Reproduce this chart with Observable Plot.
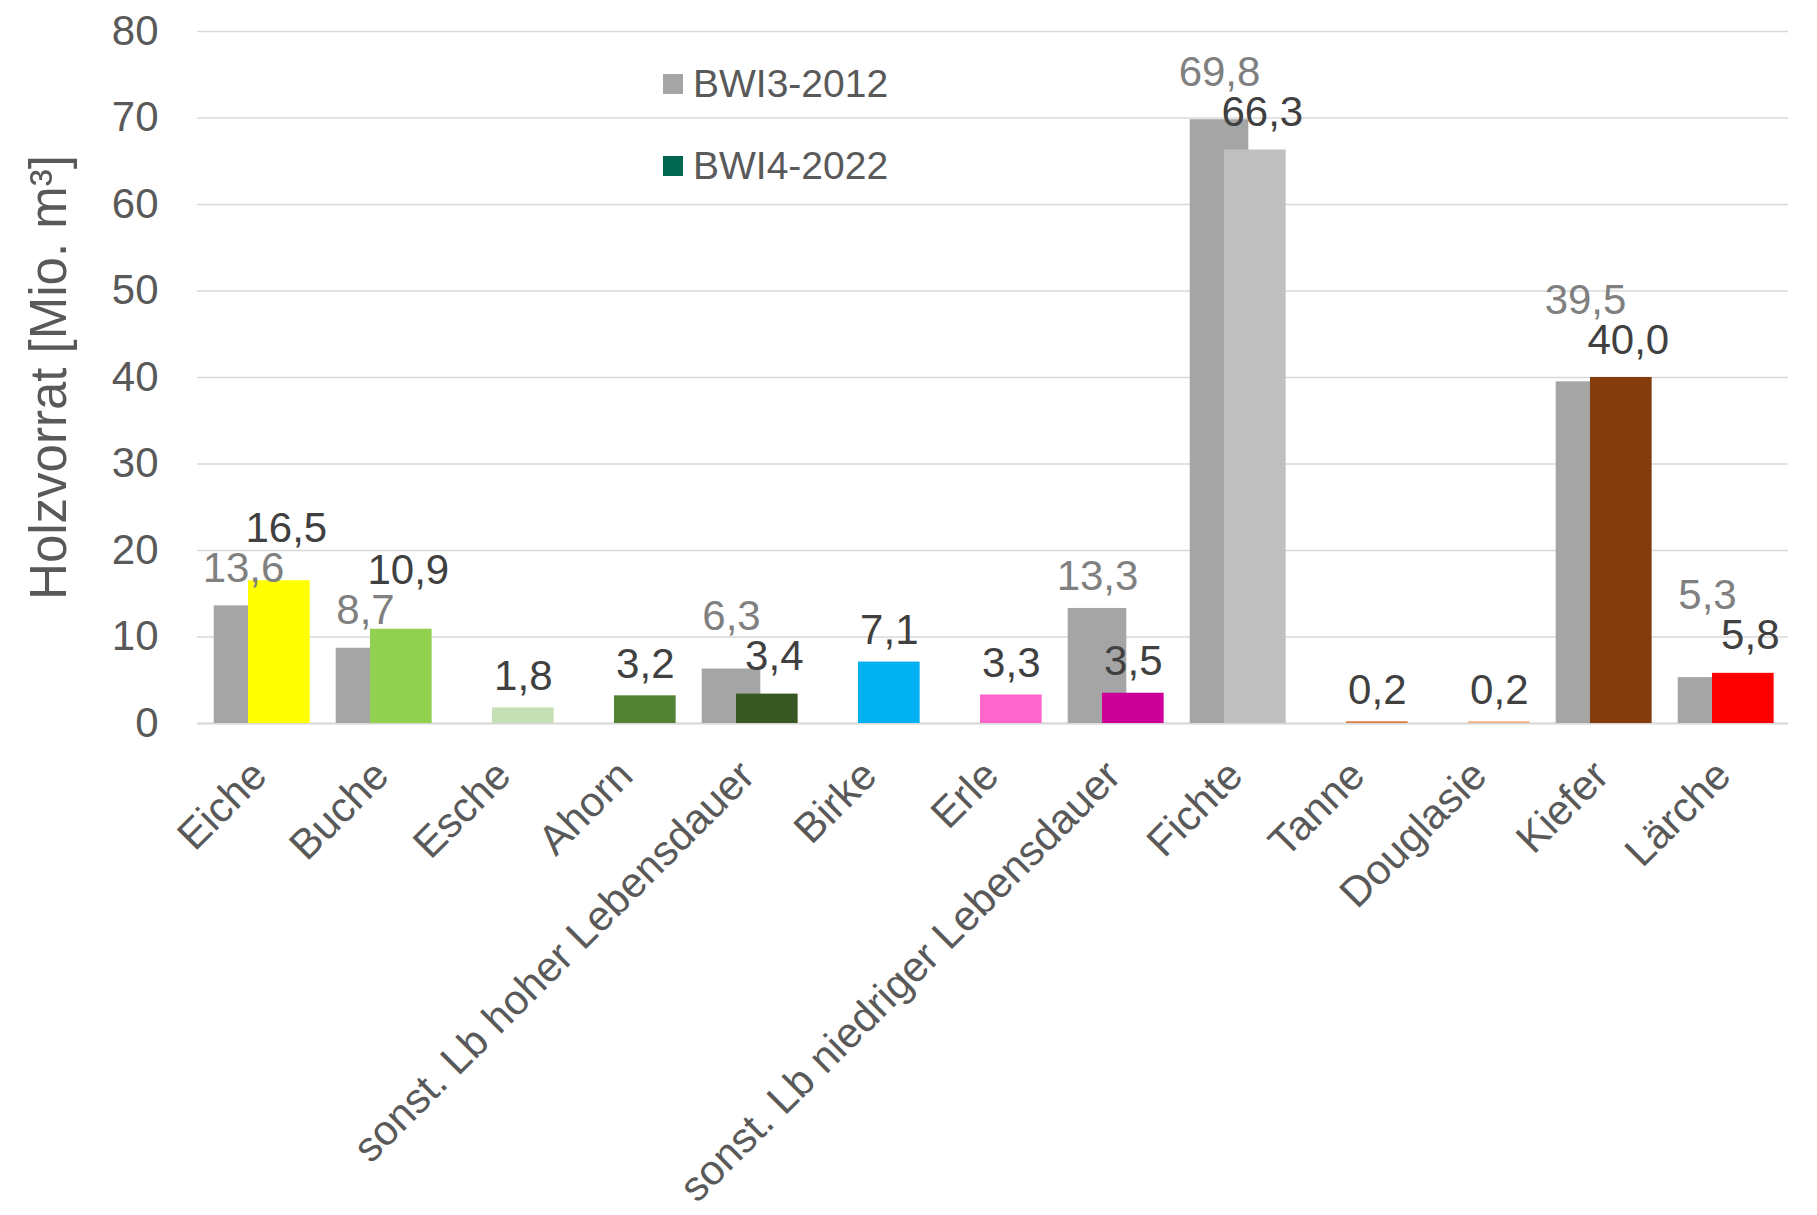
<!DOCTYPE html>
<html><head><meta charset="utf-8">
<script src="https://cdn.jsdelivr.net/npm/d3@7"></script>
<script src="https://cdn.jsdelivr.net/npm/@observablehq/plot@0.6"></script>
<style>
body{margin:0;background:#fff;}
#wrap{position:relative;width:1817px;height:1215px;font-family:"Liberation Sans",Arial,sans-serif;}
#legend{position:absolute;left:663px;top:62px;color:#595959;font-size:39px;line-height:44px;}
.item{display:flex;align-items:center;height:44px;margin-bottom:38px;}
.sw{width:20px;height:20px;margin-right:10px;}
g[aria-label="y-axis label"] text{font-size:51px;}
</style></head><body><div id="wrap"><div id="chart"></div><div id="legend"></div></div>
<script>
// ---- data ----
const categories = ["Eiche","Buche","Esche","Ahorn","sonst. Lb hoher Lebensdauer","Birke","Erle","sonst. Lb niedriger Lebensdauer","Fichte","Tanne","Douglasie","Kiefer","Lärche"];
const bwi3 = [13.6, 8.7, null, null, 6.3, null, null, 13.3, 69.8, null, null, 39.5, 5.3];
const bwi4 = [16.5, 10.9, 1.8, 3.2, 3.4, 7.1, 3.3, 3.5, 66.3, 0.2, 0.2, 40.0, 5.8];
const colors4 = ["#FFFF00","#92D050","#C5E0B4","#548235","#385723","#00B0F0","#FF66CC","#CC0099","#BFBFBF","#DD7D45","#F4B183","#843C0C","#FF0000"];
const seriesNames = ["BWI3-2012","BWI4-2022"];
const seriesColors = ["#A5A5A5","#00664F"];
const yTicks = [0,10,20,30,40,50,60,70,80];

// ---- layout ----
const W = 1817, H = 1215, mL = 197, mR = 29, mT = 31, mB = 492;
const bw = (W - mL - mR) / categories.length;
const pxPerUnit = (H - mT - mB) / 80;
const fmt = v => d3.format(".1f")(v).replace(".", ",");

const rows3 = categories.map((c, i) => ({cat: c, v: bwi3[i]})).filter(d => d.v != null);
const rows4 = categories.map((c, i) => ({cat: c, v: bwi4[i], color: colors4[i]}));

// label placement: above each bar; stack labels of a category if they collide
const gap = 18, gapPair = 24, sep = 40;
const lab3 = [], lab4 = [];
categories.forEach((c, i) => {
  const a = bwi3[i], b = bwi4[i];
  const lb = {cat: c, v: b, lift: gap, shift: false};
  if (a != null) {
    const la = {cat: c, v: a, lift: gap};
    let ya = a * pxPerUnit + gap, yb = b * pxPerUnit + gap;
    if (Math.abs(ya - yb) < sep) {
      lb.shift = true;
      ya = a * pxPerUnit + gapPair; yb = b * pxPerUnit + gapPair;
      la.lift = gapPair; lb.lift = gapPair;
      const top3 = Math.abs(a - b) < 1 ? true : a > b;
      if (top3) la.lift = Math.max(ya, yb + sep) - a * pxPerUnit;
      else lb.lift = Math.max(yb, ya + sep) - b * pxPerUnit;
    }
    lab3.push(la);
  }
  lab4.push(lb);
});

const gL = 0.112 * bw, gR = bw - 0.594 * bw;
const cL = 0.392 * bw, cR = bw - 0.899 * bw;
const c3 = (gL + (bw - gR)) / 2 - bw / 2;
const c4 = (cL + (bw - cR)) / 2 - bw / 2;

const chart = Plot.plot({
  width: W, height: H,
  marginLeft: mL, marginRight: mR, marginTop: mT, marginBottom: mB,
  style: {fontFamily: '"Liberation Sans", Arial, sans-serif', background: "#fff"},
  x: {domain: categories, padding: 0},
  y: {domain: [0, 80], label: "Holzvorrat [Mio. m³]"},
  marks: [
    Plot.gridY(yTicks, {stroke: "#D9D9D9", strokeOpacity: 1, strokeWidth: 1.6}),
    Plot.ruleY([0], {stroke: "#D9D9D9", strokeWidth: 2.2}),
    Plot.barY(rows3, {x: "cat", y: "v", fill: seriesColors[0], insetLeft: gL, insetRight: gR}),
    Plot.barY(rows4, {x: "cat", y: "v", fill: "color", insetLeft: cL, insetRight: cR}),
    Plot.text(lab3, {x: "cat", y: d => d.v + d.lift / pxPerUnit, text: d => fmt(d.v), dx: c3, lineAnchor: "bottom", fontSize: 42, fill: "#808080"}),
    Plot.text(lab4.filter(d => !d.shift), {x: "cat", y: d => d.v + d.lift / pxPerUnit, text: d => fmt(d.v), dx: c4, lineAnchor: "bottom", fontSize: 42, fill: "#404040"}),
    Plot.text(lab4.filter(d => d.shift), {x: "cat", y: d => d.v + d.lift / pxPerUnit, text: d => fmt(d.v), dx: c4 + 7, lineAnchor: "bottom", fontSize: 42, fill: "#404040"}),
    Plot.axisY({ticks: yTicks, tickSize: 0, tickPadding: 39, fontSize: 42, color: "#595959", label: "Holzvorrat [Mio. m³]", labelAnchor: "center", labelOffset: 168, labelArrow: "none"}),
    Plot.axisX({tickRotate: -45, tickSize: 0, tickPadding: 45, dx: -2, fontSize: 42, color: "#595959", label: null})
  ]
});
document.getElementById("chart").appendChild(chart);

const lg = d3.select("#legend");
seriesNames.forEach((n, i) => {
  const it = lg.append("div").attr("class", "item");
  it.append("div").attr("class", "sw").style("background", seriesColors[i]);
  it.append("span").text(n);
});
</script></body></html>
